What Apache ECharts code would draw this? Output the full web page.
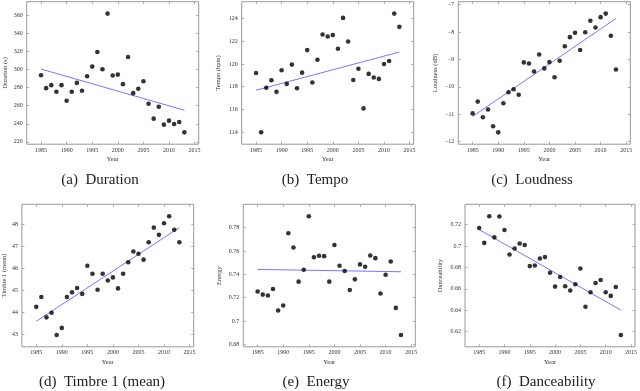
<!DOCTYPE html>
<html>
<head>
<meta charset="utf-8">
<script src="https://cdn.jsdelivr.net/npm/echarts@6/dist/echarts.min.js"></script>
<style>
  html, body { margin: 0; padding: 0; background: #fff; }
  #main { width: 640px; height: 391px; }
</style>
</head>
<body>
<div id="main"></div>
<script>
// 数据：各年份的平均值
var years = [1985, 1986, 1987, 1988, 1989, 1990, 1991, 1992, 1993, 1994, 1995, 1996, 1997, 1998, 1999,
             2000, 2001, 2002, 2003, 2004, 2005, 2006, 2007, 2008, 2009, 2010, 2011, 2012, 2013];
var duration = [293.7, 279.4, 282.7, 275.4, 282.7, 265.5, 275.4, 285.2, 276.5, 292.6, 303.2, 319.3, 300.3, 361.8, 293.3,
                294.4, 283.8, 313.8, 273.9, 278.7, 287.1, 262.2, 245.7, 258.9, 239.1, 243.5, 239.8, 242.0, 230.6];
var tempo = [119.2, 113.97, 117.9, 118.56, 117.54, 119.44, 118.24, 119.94, 117.86, 119.23, 121.22, 118.36, 120.37, 122.6, 122.42,
             122.54, 121.34, 124.06, 121.98, 118.59, 119.58, 116.08, 119.12, 118.8, 118.68, 119.99, 120.26, 124.44, 123.27];
var loudness = [-10.97, -10.54, -11.11, -10.83, -11.44, -11.66, -10.60, -10.20, -10.09, -10.29, -9.11, -9.15, -9.44, -8.82, -9.33,
                -9.10, -9.65, -9.05, -8.52, -8.19, -8.03, -8.66, -8.01, -7.59, -7.84, -7.46, -7.33, -8.14, -9.37];
var timbre = [44.25, 44.70, 43.77, 43.98, 42.97, 43.29, 44.70, 44.91, 45.11, 44.84, 46.12, 45.76, 45.03, 45.76, 45.45,
              45.59, 45.09, 45.76, 46.28, 46.77, 46.67, 46.40, 47.19, 47.86, 47.53, 48.06, 48.38, 47.76, 47.19];
var energy = [0.7252, 0.7226, 0.7218, 0.7274, 0.709, 0.7132, 0.7752, 0.763, 0.7337, 0.7439, 0.7899, 0.7547, 0.7559, 0.7556, 0.7337,
              0.7652, 0.7473, 0.7428, 0.7266, 0.7357, 0.7485, 0.7465, 0.7561, 0.7539, 0.7235, 0.7397, 0.751, 0.7112, 0.688];
var dance = [0.7169, 0.703, 0.728, 0.7082, 0.7277, 0.715, 0.6921, 0.6977, 0.7024, 0.7011, 0.6813, 0.6819, 0.6884, 0.6897, 0.6751,
             0.6621, 0.6711, 0.6624, 0.6584, 0.6643, 0.6791, 0.6432, 0.6568, 0.6655, 0.6683, 0.6568, 0.6534, 0.6618, 0.6169];

// 趋势线两端（1985 和 2013）
var trendYears = [1985, 2013];
var trendDuration = [300.5, 255.0];
var trendTempo = [117.68, 121.05];
var trendLoudness = [-11.08, -7.51];
var trendTimbre = [43.59, 47.86];
var trendEnergy = [0.7442, 0.7422];
var trendDance = [0.7154, 0.6401];

// 刻度
var xTicks = [1985, 1990, 1995, 2000, 2005, 2010, 2015];
var ticksDuration = [220, 240, 260, 280, 300, 320, 340, 360];
var ticksTempo = [114, 116, 118, 120, 122, 124];
var ticksLoudness = [-12, -11, -10, -9, -8, -7];
var ticksTimbre = [43, 44, 45, 46, 47, 48];
var ticksEnergy = [0.68, 0.7, 0.72, 0.74, 0.76, 0.78];
var ticksDance = [0.62, 0.64, 0.66, 0.68, 0.7, 0.72];

var panels = [
    { cap: '(a)  Duration', yName: 'Duration (s)', vals: duration, trend: trendDuration, ticks: ticksDuration,
      left: 26.7, top: 1.7, gap: 18, capX: 100, capY: 172.5 },
    { cap: '(b)  Tempo', yName: 'Tempo (bpm)', vals: tempo, trend: trendTempo, ticks: ticksTempo,
      left: 241.7, top: 1.7, gap: 20, capX: 315, capY: 172.5 },
    { cap: '(c)  Loudness', yName: 'Loudness (dB)', vals: loudness, trend: trendLoudness, ticks: ticksLoudness,
      left: 458.3, top: 1.7, gap: 20, capX: 532, capY: 172.5 },
    { cap: '(d)  Timbre 1 (mean)', yName: 'Timbre 1 (mean)', vals: timbre, trend: trendTimbre, ticks: ticksTimbre,
      left: 21.7, top: 204.3, gap: 13, capX: 102, capY: 375 },
    { cap: '(e)  Energy', yName: 'Energy', vals: energy, trend: trendEnergy, ticks: ticksEnergy,
      left: 243.3, top: 204.3, gap: 21, capX: 316, capY: 375 },
    { cap: '(f)  Danceability', yName: 'Danceability', vals: dance, trend: trendDance, ticks: ticksDance,
      left: 465, top: 204.3, gap: 21, capX: 546, capY: 375 }
];

var font = 'Liberation Serif';
var tickColor = '#999';

function range(arr) {
    var lo = Math.min.apply(null, arr), hi = Math.max.apply(null, arr);
    var pad = (hi - lo) * 0.1;
    return [lo - pad, hi + pad];
}
function fmt(v) {
    var s = String(+v.toFixed(2));
    return s.replace('-', '\u2212');
}

var xr = range(years);
var grid = [], xAxis = [], yAxis = [], series = [], title = [];

panels.forEach(function (p, i) {
    var yr = range(p.vals);
    grid.push({ left: p.left, top: p.top, width: 172, height: 142.5,
                show: true, borderColor: '#999', borderWidth: 1, containLabel: false });
    var tickStyle = { show: true, inside: true, length: 2.5, lineStyle: { color: tickColor, width: 0.8 } };
    xAxis.push({
        type: 'value', gridIndex: i, min: xr[0], max: xr[1], position: 'bottom',
        name: 'Year', nameLocation: 'middle', nameGap: 12,
        nameTextStyle: { fontFamily: font, fontSize: 6.5, color: '#333' },
        axisLine: { show: false }, splitLine: { show: false },
        axisTick: Object.assign({ customValues: xTicks }, tickStyle),
        axisLabel: { customValues: xTicks, margin: 3, fontFamily: font, fontSize: 6, color: '#333',
                     formatter: function (v) { return String(v); } }
    });
    xAxis.push({
        type: 'value', gridIndex: i, min: xr[0], max: xr[1], position: 'top',
        axisLine: { show: false }, splitLine: { show: false },
        axisTick: Object.assign({ customValues: xTicks }, tickStyle),
        axisLabel: { show: false }
    });
    yAxis.push({
        type: 'value', gridIndex: i, min: yr[0], max: yr[1], position: 'left',
        name: p.yName, nameLocation: 'middle', nameGap: p.gap, nameRotate: 90,
        nameTextStyle: { fontFamily: font, fontSize: 6.5, color: '#333' },
        axisLine: { show: false }, splitLine: { show: false },
        axisTick: Object.assign({ customValues: p.ticks }, tickStyle),
        axisLabel: { customValues: p.ticks, margin: 4, fontFamily: font, fontSize: 6, color: '#333',
                     formatter: fmt }
    });
    yAxis.push({
        type: 'value', gridIndex: i, min: yr[0], max: yr[1], position: 'right',
        axisLine: { show: false }, splitLine: { show: false },
        axisTick: Object.assign({ customValues: p.ticks }, tickStyle),
        axisLabel: { show: false }
    });
    series.push({
        type: 'line', xAxisIndex: 2 * i, yAxisIndex: 2 * i,
        data: trendYears.map(function (y, k) { return [y, p.trend[k]]; }),
        symbol: 'none', lineStyle: { color: '#7777ff', width: 1 }, z: 2, silent: true
    });
    series.push({
        type: 'scatter', xAxisIndex: 2 * i, yAxisIndex: 2 * i,
        data: years.map(function (y, k) { return [y, p.vals[k]]; }),
        symbolSize: 4.6, itemStyle: { color: '#000' }, z: 3
    });
    title.push({
        text: p.cap, left: p.capX, top: p.capY, textAlign: 'center', padding: 0,
        textStyle: { fontFamily: font, fontSize: 15, fontWeight: 'normal', color: '#222' }
    });
});

var myChart = echarts.init(document.getElementById('main'));
var option = {
    animation: false,
    backgroundColor: '#fff',
    title: title,
    grid: grid,
    xAxis: xAxis,
    yAxis: yAxis,
    series: series
};
myChart.setOption(option);
</script>
</body>
</html>
